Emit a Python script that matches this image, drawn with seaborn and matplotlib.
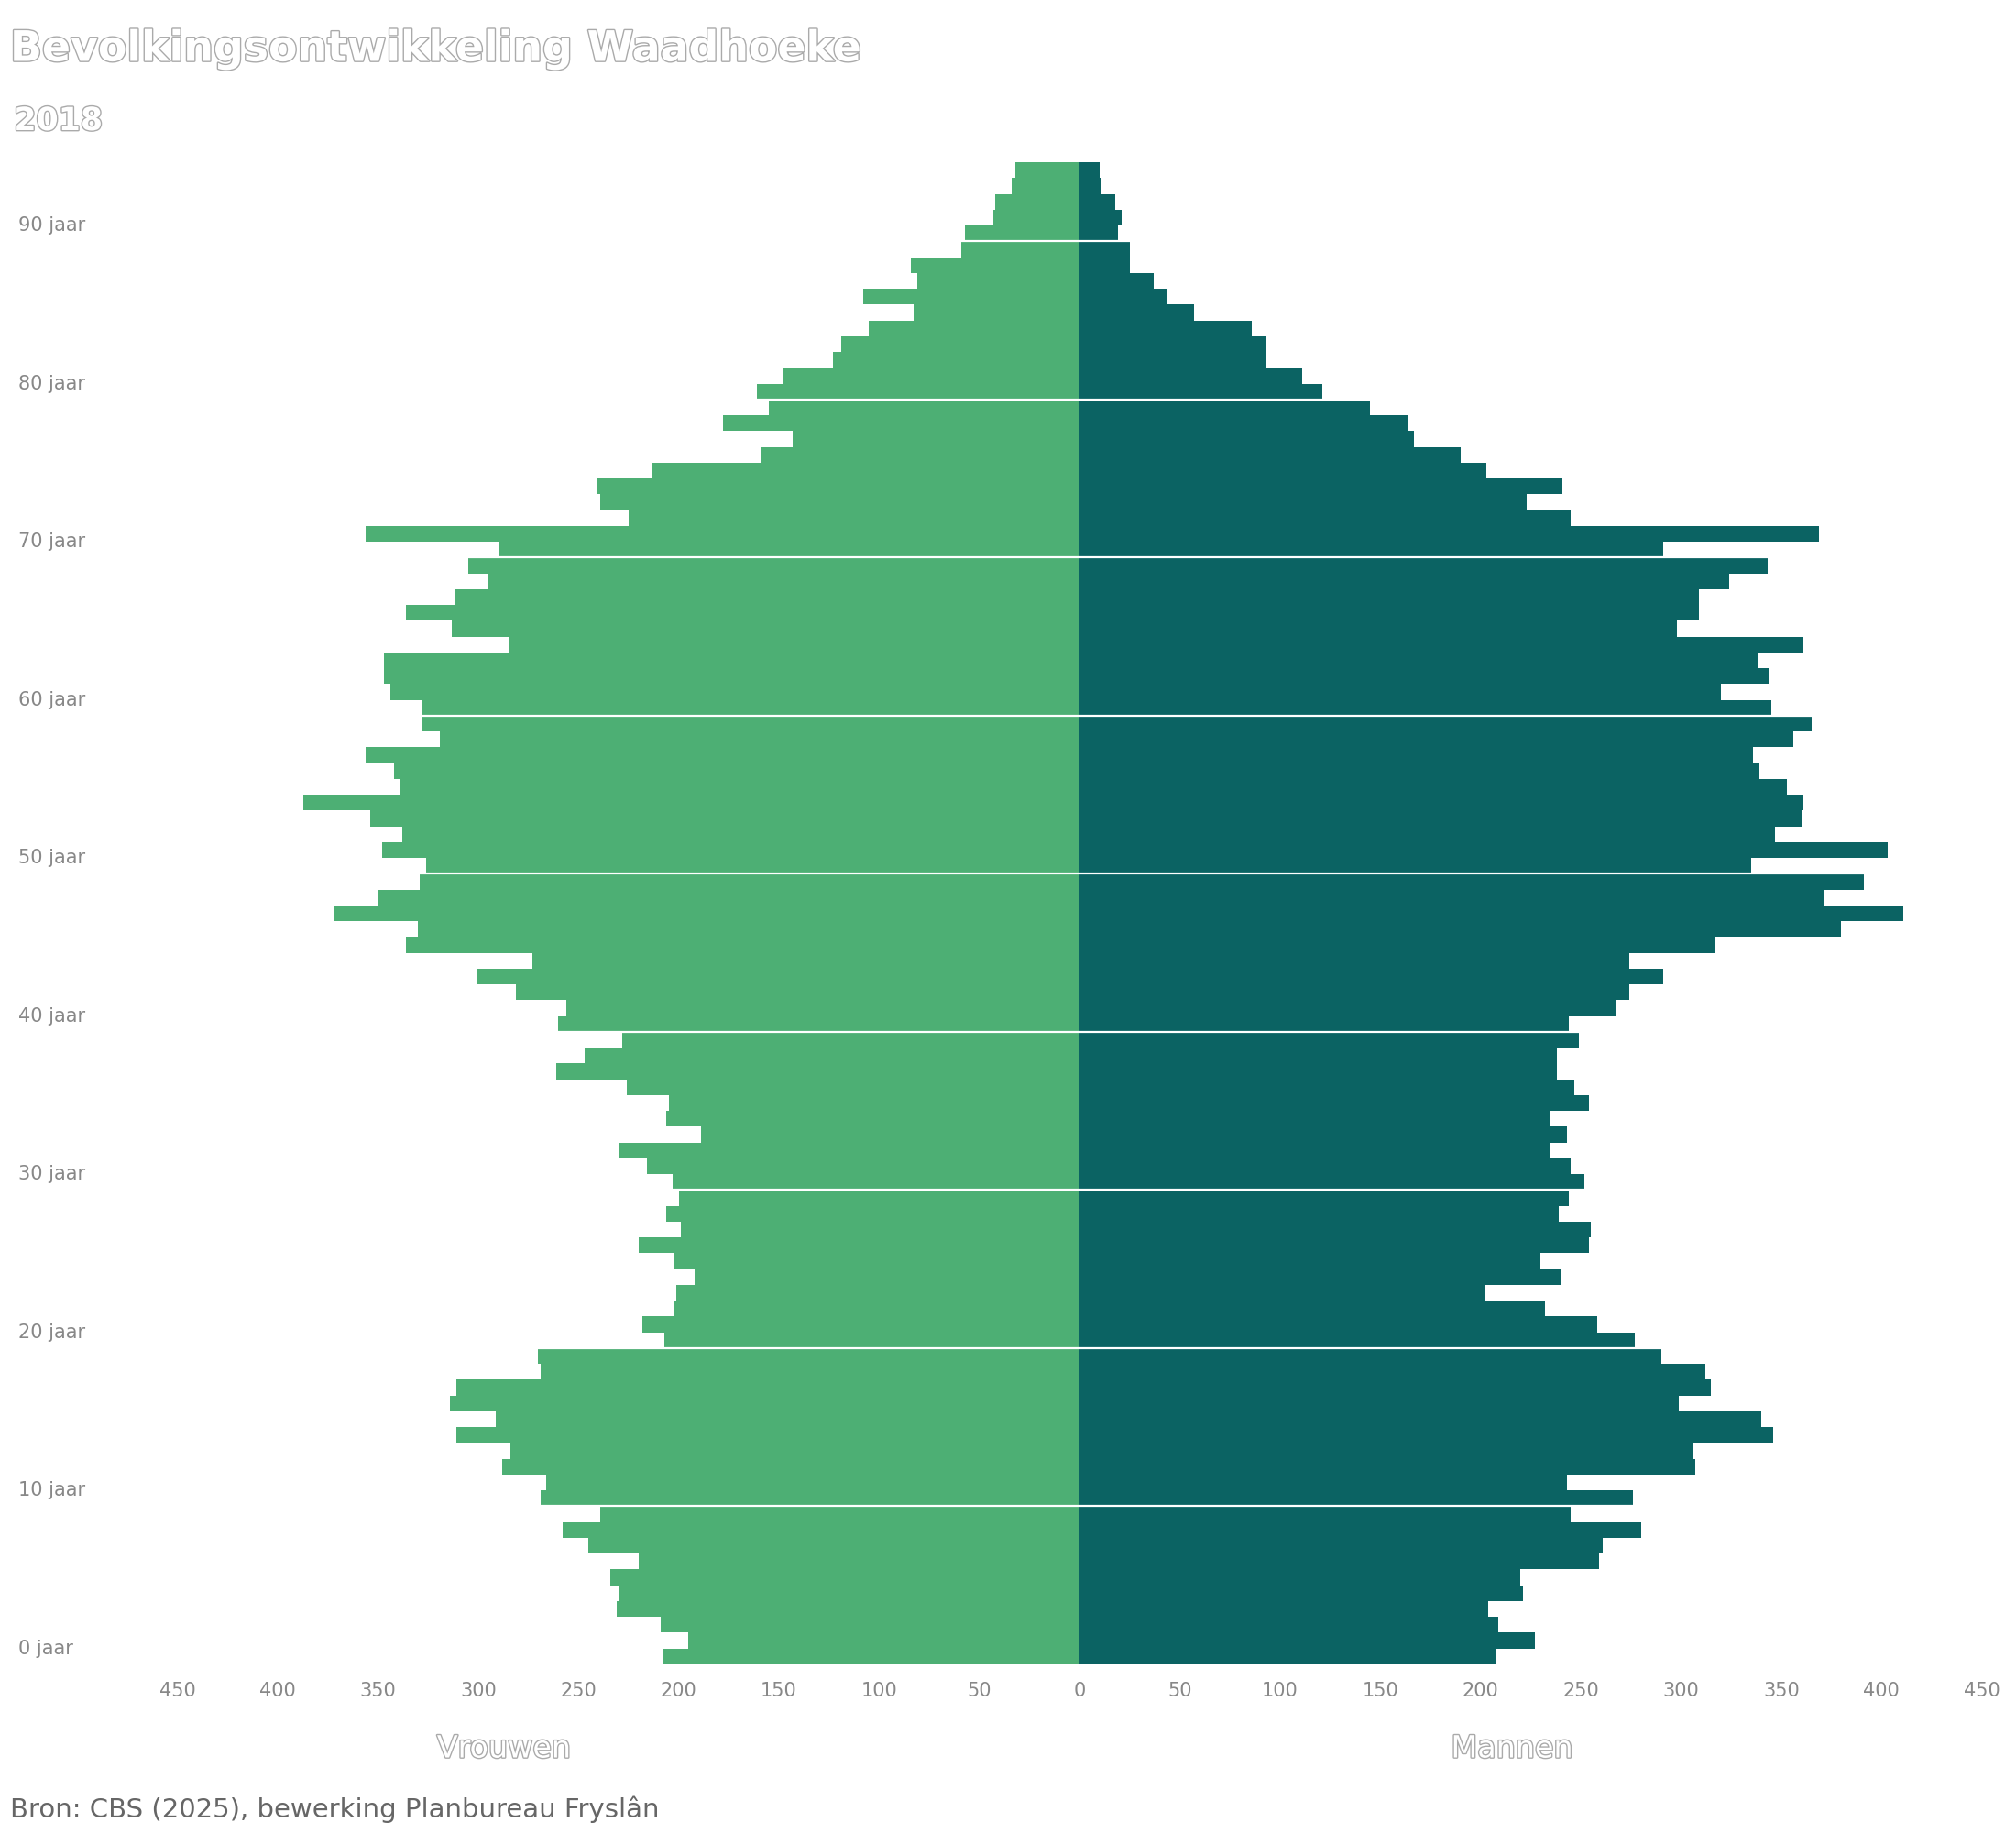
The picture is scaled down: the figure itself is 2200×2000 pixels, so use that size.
import matplotlib
matplotlib.use("Agg")
import matplotlib.pyplot as plt
import matplotlib.patheffects as pe
import seaborn as sns
import pandas as pd
import numpy as np

ages = list(range(95))
vrouwen = [208,195,209,231,230,234,220,245,258,239,269,266,288,284,311,291,314,311,269,270,
           207,218,202,201,192,202,220,199,206,200,203,216,230,189,206,205,226,261,247,228,
           260,256,281,301,273,336,330,372,350,329,326,348,338,354,387,339,342,356,319,328,
           328,344,347,347,285,313,336,312,295,305,290,356,225,239,241,213,159,143,178,155,
           161,148,123,119,105,83,108,81,84,59,57,43,42,34,32]
mannen = [208,227,209,204,221,220,259,261,280,245,276,243,307,306,346,340,299,315,312,290,
          277,258,232,202,240,230,254,255,239,244,252,245,235,243,235,254,247,238,238,249,
          244,268,274,291,274,317,380,411,371,391,335,403,347,360,361,353,339,336,356,365,
          345,320,344,338,361,298,309,309,324,343,291,369,245,223,241,203,190,167,164,145,
          121,111,93,93,86,57,44,37,25,25,19,21,18,11,10]
xticks = [-450,-400,-350,-300,-250,-200,-150,-100,-50,0,50,100,150,200,250,300,350,400,450]
age_labels = [0,10,20,30,40,50,60,70,80,90]

df = pd.DataFrame({
    "leeftijd": ages + ages,
    "aantal": [-v for v in vrouwen] + mannen,
    "geslacht": ["Vrouwen"] * len(ages) + ["Mannen"] * len(ages),
})

sns.set_style("white")
plt.rcParams['font.family'] = ['DejaVu Sans']
fig = plt.figure(figsize=(22, 20), dpi=100)
ax = fig.add_axes([0.088, 0.092, 0.895, 0.8195])
sns.barplot(data=df, x="aantal", y="leeftijd", hue="geslacht", orient="h",
            native_scale=True, dodge=False, width=1.0, linewidth=0, saturation=1,
            palette={"Vrouwen": "#4daf74", "Mannen": "#0b6363"}, ax=ax, legend=False)
ax.set_ylim(-0.5, 94.5)
ax.set_xlim(-450, 450)
for a in age_labels[1:]:
    ax.axhline(a - 0.5, color="white", lw=1.6)
for s in ax.spines.values():
    s.set_visible(False)
ax.set_xticks(xticks)
ax.set_xticklabels([str(abs(t)) for t in xticks], color="#888888", fontsize=15)
ax.tick_params(axis="x", length=0, pad=14)
ax.set_yticks([])
ax.set_xlabel("")
ax.set_ylabel("")
tr = matplotlib.transforms.blended_transform_factory(fig.transFigure, ax.transData)
for a in age_labels:
    ax.text(0.009, a + 0.5, f"{a} jaar", transform=tr, ha="left", va="center",
            color="#888888", fontsize=15)

outline = [pe.withStroke(linewidth=2.0, foreground="#aaaaaa")]
fig.text(0.005, 0.973, "Bevolkingsontwikkeling Waadhoeke", fontsize=33, color="white",
         weight="bold", ha="left", va="center", path_effects=outline)
fig.text(0.007, 0.934, "2018", fontsize=25, color="white", weight="bold",
         ha="left", va="center", path_effects=outline)
fig.text(0.25, 0.046, "Vrouwen", fontsize=24, color="white", ha="center", va="center",
         path_effects=outline)
fig.text(0.75, 0.046, "Mannen", fontsize=24, color="white", ha="center", va="center",
         path_effects=outline)
fig.text(0.005, 0.013, "Bron: CBS (2025), bewerking Planbureau Fryslân", fontsize=21,
         color="#666666", ha="left", va="center")
fig.savefig("out.png", dpi=100)
